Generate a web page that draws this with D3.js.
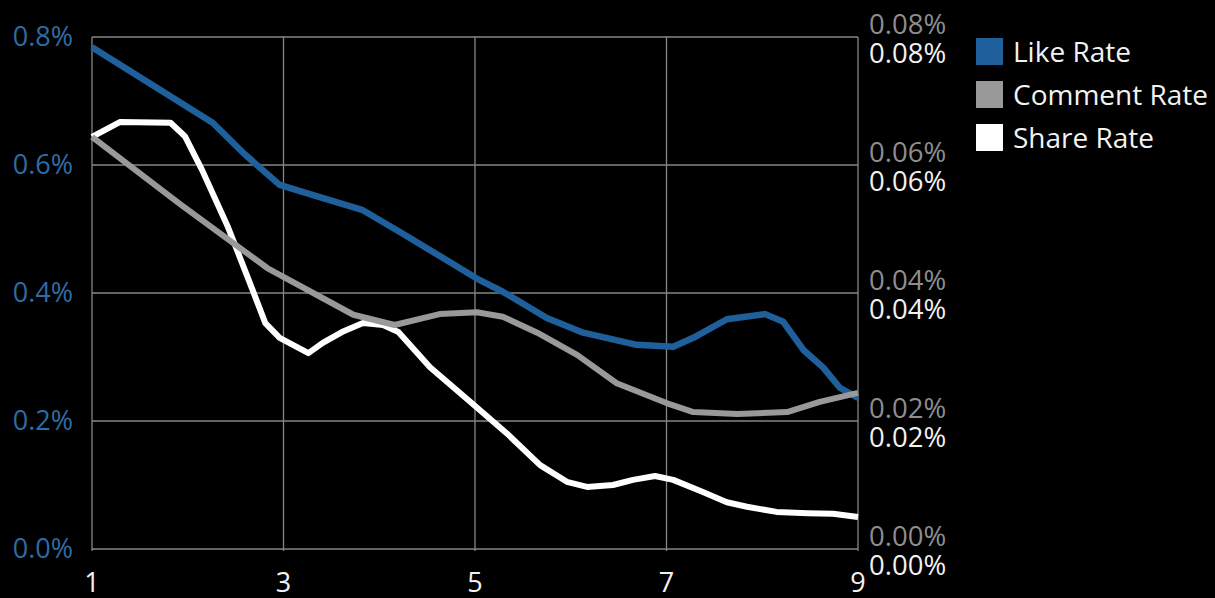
<!DOCTYPE html>
<html>
<head>
<meta charset="utf-8">
<script src="https://cdn.jsdelivr.net/npm/d3@7"></script>
<style>
  html, body { margin: 0; padding: 0; background: #000; }
  svg { display: block; }
  text { font-family: "Open Sans", "Noto Sans", sans-serif; }
</style>
</head>
<body>
<svg id="chart" width="1215" height="598"></svg>
<script>
// Like rate (left axis, %)
const likeX = [1, 2.26, 2.6, 2.96, 3.31, 3.82, 4.22, 5.05, 5.29, 5.75, 6.13, 6.69, 7.07, 7.28, 7.63, 8.03, 8.22, 8.43, 8.64, 8.81, 9];
const likeY = [0.784, 0.666, 0.616, 0.569, 0.553, 0.530, 0.495, 0.420, 0.402, 0.361, 0.338, 0.319, 0.316, 0.330, 0.359, 0.367, 0.355, 0.311, 0.283, 0.252, 0.236];

// Comment rate (right axis, %)
const commentX = [1, 1.92, 2.83, 3.73, 4.16, 4.63, 5.02, 5.29, 5.65, 6.07, 6.48, 7.0, 7.28, 7.74, 8.26, 8.6, 9];
const commentY = [0.0644, 0.0539, 0.0439, 0.0366, 0.0350, 0.0367, 0.0370, 0.0363, 0.0338, 0.0303, 0.0259, 0.0228, 0.0214, 0.0211, 0.0214, 0.0230, 0.0244];

// Share rate (right axis, %)
const shareX = [1, 1.29, 1.82, 1.97, 2.15, 2.42, 2.63, 2.81, 2.96, 3.26, 3.41, 3.61, 3.83, 4.04, 4.2, 4.53, 4.95, 5.33, 5.68, 5.96, 6.17, 6.44, 6.65, 6.88, 7.07, 7.38, 7.63, 7.84, 8.15, 8.47, 8.74, 9];
const shareY = [0.0644, 0.0667, 0.0666, 0.0645, 0.0592, 0.0503, 0.0423, 0.0353, 0.0330, 0.0306, 0.0322, 0.0339, 0.0353, 0.0350, 0.0339, 0.0284, 0.0230, 0.0181, 0.0131, 0.0105, 0.0097, 0.0100, 0.0108, 0.0114, 0.0108, 0.0089, 0.0073, 0.0066, 0.0058, 0.0056, 0.0055, 0.0050];

const xTicks = [1, 3, 5, 7, 9];
const leftTicks = [0, 0.2, 0.4, 0.6, 0.8];
const rightTicks = [0, 0.02, 0.04, 0.06, 0.08];

const seriesNames = ["Like Rate", "Comment Rate", "Share Rate"];
const seriesColors = ["#1f5f9c", "#999999", "#ffffff"];

const svg = d3.select("#chart");
const W = 1215, H = 598;
const plot = { left: 92, right: 858, top: 37, bottom: 549 };

svg.append("rect").attr("width", W).attr("height", H).attr("fill", "#000");

const x = d3.scaleLinear().domain([1, 9]).range([plot.left, plot.right]);
const yL = d3.scaleLinear().domain([0, 0.8]).range([plot.bottom, plot.top]);
const yR = d3.scaleLinear().domain([0, 0.08]).range([plot.bottom, plot.top]);

const gridColor = "#868686";

// horizontal grid
svg.append("g").selectAll("line").data(leftTicks).join("line")
  .attr("x1", plot.left).attr("x2", plot.right)
  .attr("y1", d => yL(d)).attr("y2", d => yL(d))
  .attr("stroke", gridColor).attr("stroke-width", 1.3);

// vertical grid
svg.append("g").selectAll("line").data(xTicks).join("line")
  .attr("x1", d => x(d)).attr("x2", d => x(d))
  .attr("y1", plot.top).attr("y2", plot.bottom + 2)
  .attr("stroke", gridColor).attr("stroke-width", 1.3);

// left axis labels
svg.append("g").selectAll("text").data(leftTicks).join("text")
  .attr("x", 73).attr("y", d => yL(d) + 8.5)
  .attr("text-anchor", "end")
  .attr("fill", "#2e6ca5").attr("font-size", 27)
  .text(d => d3.format(".1f")(d) + "%");

// right axis labels: comment (grey) above, share (white) below
svg.append("g").selectAll("text").data(rightTicks).join("text")
  .attr("x", 869).attr("y", d => yR(d) - 3)
  .attr("fill", "#8e8e8e").attr("font-size", 27.5)
  .text(d => d3.format(".2f")(d) + "%");
svg.append("g").selectAll("text").data(rightTicks).join("text")
  .attr("x", 869).attr("y", d => yR(d) + 26)
  .attr("fill", "#f2f2f2").attr("font-size", 27.5)
  .text(d => d3.format(".2f")(d) + "%");

// x axis labels
svg.append("g").selectAll("text").data(xTicks).join("text")
  .attr("x", d => x(d)).attr("y", 592)
  .attr("text-anchor", "middle")
  .attr("fill", "#f2f2f2").attr("font-size", 27)
  .text(d => d);

const line = (xs, ys, yScale) => d3.line()
  .x((d, i) => x(xs[i]))
  .y(d => yScale(d))(ys);

svg.append("path").attr("d", line(likeX, likeY, yL))
  .attr("fill", "none").attr("stroke", seriesColors[0]).attr("stroke-width", 6.5)
  .attr("stroke-linejoin", "round");
svg.append("path").attr("d", line(shareX, shareY, yR))
  .attr("fill", "none").attr("stroke", seriesColors[2]).attr("stroke-width", 6)
  .attr("stroke-linejoin", "round");
svg.append("path").attr("d", line(commentX, commentY, yR))
  .attr("fill", "none").attr("stroke", seriesColors[1]).attr("stroke-width", 6)
  .attr("stroke-linejoin", "round");

// legend
const leg = svg.append("g").selectAll("g").data(seriesNames).join("g")
  .attr("transform", (d, i) => `translate(976, ${38 + i * 43})`);
leg.append("rect").attr("width", 27).attr("height", 27)
  .attr("fill", (d, i) => seriesColors[i]);
leg.append("text").attr("x", 37).attr("y", 24)
  .attr("fill", "#f2f2f2").attr("font-size", 28)
  .text(d => d);
</script>
</body>
</html>
